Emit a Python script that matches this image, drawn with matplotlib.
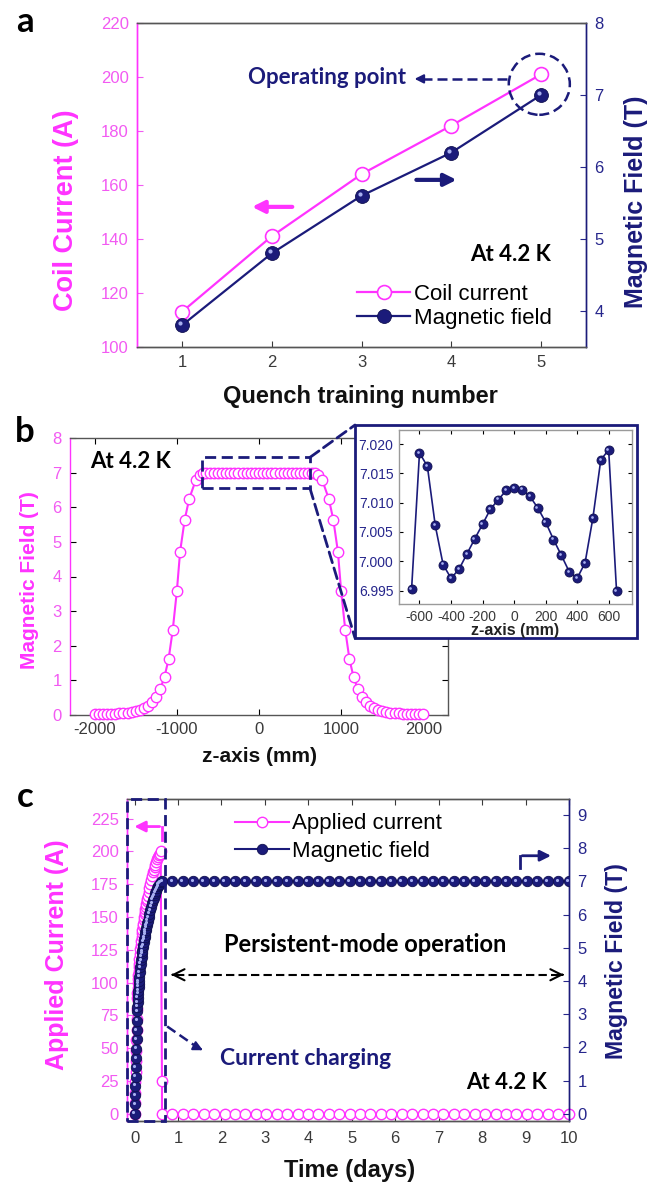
import matplotlib
matplotlib.use("Agg")
import matplotlib.pyplot as plt
from matplotlib.patches import Ellipse, Rectangle, ConnectionPatch
from matplotlib.transforms import offset_copy
from matplotlib.ticker import FormatStrFormatter

plt.rcParams["axes.unicode_minus"] = False

MAG, MAG_T = "#ff33ff", "#f25af2"
NAVY, NAVY_T = "#1b1b7a", "#26268c"
GREY, TICK = "#555555", "#3a3a3a"
SANS, CAL = "Liberation Sans", "Lato"

# ---- panel a: quench training
quench_no = [1, 2, 3, 4, 5]
coil_current = [113, 141, 164, 182, 201]
field_a = [3.8, 4.8, 5.6, 6.2, 7.0]

# ---- panel b: axial field profile
z_profile = [-2000, -1950, -1900, -1850, -1800, -1750, -1700, -1650, -1600, -1550,
             -1500, -1450, -1400, -1350, -1300, -1250, -1200, -1150, -1100, -1050,
             -1000, -960, -905, -850, -770, -720, -680,
             -650, -600, -550, -500, -450, -400, -350, -300, -250, -200, -150, -100, -50,
             0, 50, 100, 150, 200, 250, 300, 350, 400, 450, 500, 550, 600, 650,
             680, 720, 770, 850, 905, 960, 1000,
             1050, 1100, 1150, 1200, 1250, 1300, 1350, 1400, 1450, 1500,
             1550, 1600, 1650, 1700, 1750, 1800, 1850, 1900, 1950, 2000]
field_profile = [0.02, 0.02, 0.025, 0.03, 0.035, 0.04, 0.05, 0.06, 0.07, 0.09,
                 0.11, 0.15, 0.20, 0.27, 0.37, 0.52, 0.76, 1.10, 1.62, 2.45,
                 3.57, 4.72, 5.63, 6.24, 6.78, 6.92, 6.98,
                 7.0, 7.0, 7.0, 7.0, 7.0, 7.0, 7.0, 7.0, 7.0, 7.0, 7.0, 7.0, 7.0,
                 7.0, 7.0, 7.0, 7.0, 7.0, 7.0, 7.0, 7.0, 7.0, 7.0, 7.0, 7.0, 7.0, 7.0,
                 6.98, 6.92, 6.78, 6.24, 5.63, 4.72, 3.57,
                 2.45, 1.62, 1.10, 0.76, 0.52, 0.37, 0.27, 0.20, 0.15, 0.11,
                 0.09, 0.07, 0.06, 0.05, 0.04, 0.035, 0.03, 0.025, 0.02, 0.02]
z_inset = [-650, -600, -550, -500, -450, -400, -350, -300, -250, -200, -150, -100, -50,
           0, 50, 100, 150, 200, 250, 300, 350, 400, 450, 500, 550, 600, 650]
field_inset = [6.9953, 7.0185, 7.0162, 7.0061, 6.9994, 6.9971, 6.9986, 7.0012, 7.0038,
               7.0063, 7.0089, 7.0105, 7.0121, 7.0125, 7.0122, 7.0111, 7.0091, 7.0067,
               7.0037, 7.0010, 6.9982, 6.9971, 6.9997, 7.0074, 7.0173, 7.0190, 6.9949]

# ---- panel c: charging + persistent mode
t_charge = [0.00, 0.01, 0.015, 0.02, 0.025, 0.03, 0.035, 0.04, 0.045, 0.05, 0.055,
            0.06, 0.065, 0.07, 0.075, 0.08, 0.085, 0.09, 0.095, 0.10, 0.11, 0.12, 0.13,
            0.14, 0.15, 0.16, 0.17, 0.18, 0.19, 0.20, 0.21, 0.22, 0.23, 0.24, 0.25,
            0.26, 0.27, 0.28, 0.29, 0.30, 0.32, 0.34, 0.36, 0.38, 0.40, 0.42, 0.44,
            0.46, 0.48, 0.50, 0.52, 0.54, 0.56, 0.58, 0.60]
current_charge = [0, 8, 16, 24, 32, 40, 48, 56, 64, 72, 80,
                  88, 92, 96, 100, 103, 106, 109, 112, 114, 118, 122, 126,
                  129, 132, 135, 138, 140, 143, 145, 148, 150, 152, 154, 156,
                  158, 160, 162, 164, 166, 169, 172, 175, 178, 181, 184, 186,
                  188, 190, 192, 194, 196, 197, 198, 200]
field_charge = [0.00, 0.28, 0.56, 0.84, 1.12, 1.40, 1.68, 1.96, 2.24, 2.52, 2.80,
                3.08, 3.22, 3.36, 3.50, 3.61, 3.71, 3.82, 3.92, 3.99, 4.13, 4.27, 4.41,
                4.52, 4.62, 4.73, 4.83, 4.90, 5.01, 5.08, 5.18, 5.25, 5.32, 5.39, 5.46,
                5.53, 5.60, 5.67, 5.74, 5.81, 5.92, 6.02, 6.13, 6.23, 6.34, 6.44, 6.51,
                6.58, 6.65, 6.72, 6.79, 6.86, 6.90, 6.93, 6.97]
t_drop = [0.63, 0.63]
current_drop = [25, 0]
t_hold = [0.63, 0.87, 1.11, 1.35, 1.59, 1.83, 2.07, 2.31, 2.55, 2.79, 3.03, 3.27, 3.51,
          3.75, 3.99, 4.23, 4.47, 4.71, 4.95, 5.19, 5.43, 5.67, 5.91, 6.15, 6.39, 6.63,
          6.87, 7.11, 7.35, 7.59, 7.83, 8.07, 8.31, 8.55, 8.79, 9.03, 9.27, 9.51, 9.75, 9.99]
field_hold = [7.0, 7.0, 7.0, 7.0, 7.0, 7.0, 7.0, 7.0, 7.0, 7.0, 7.0, 7.0, 7.0, 7.0,
              7.0, 7.0, 7.0, 7.0, 7.0, 7.0, 7.0, 7.0, 7.0, 7.0, 7.0, 7.0, 7.0, 7.0,
              7.0, 7.0, 7.0, 7.0, 7.0, 7.0, 7.0, 7.0, 7.0, 7.0, 7.0, 7.0]
current_hold = [0, 0, 0, 0, 0, 0, 0, 0, 0, 0, 0, 0, 0, 0, 0, 0, 0, 0, 0, 0, 0, 0, 0,
                0, 0, 0, 0, 0, 0, 0, 0, 0, 0, 0, 0, 0, 0, 0, 0]

W, H = 653, 1186
fig = plt.figure(figsize=(W / 100, H / 100), dpi=100)


def box(l, t, r, b):
    return [l / W, 1 - b / H, (r - l) / W, (b - t) / H]


def fx(px):
    return px / W


def fy(py):
    return 1 - py / H


def ball(ax, x, y, ms, lw=1.2, label=None, zorder=3):
    """navy sphere markers with a small highlight"""
    ln, = ax.plot(x, y, "-", color=NAVY, lw=lw, marker="o", ms=ms, mfc=NAVY,
                  mec="#101050", mew=0.6, label=label, zorder=zorder)
    hl = offset_copy(ax.transData, fig=fig, x=-ms * 0.14, y=ms * 0.14, units="points")
    ax.plot(x, y, "o", ms=ms * 0.3, color="#a8b0f0", mec="none", transform=hl,
            zorder=zorder + 0.1)
    return ln


def style(ax, left=None, right=None, size=12):
    for s in ax.spines.values():
        s.set_color(GREY)
        s.set_linewidth(1.0)
    if left:
        ax.spines["left"].set_color(left)
    if right:
        ax.spines["right"].set_color(right)
    ax.tick_params(direction="in", length=4, width=0.8, labelsize=size, pad=6)


def sans_ticks(*axes):
    for a in axes:
        for lab in a.get_xticklabels() + a.get_yticklabels():
            lab.set_family(SANS)


# =============== panel a
ax_a = fig.add_axes(box(137, 23, 586, 347))
ax_a2 = ax_a.twinx()
ax_a.set_xlim(0.5, 5.5)
ax_a.set_ylim(100, 220)
ax_a2.set_ylim(3.5, 8)
ax_a.set_xticks(quench_no)
ax_a.set_yticks([100, 120, 140, 160, 180, 200, 220])
ax_a2.set_yticks([4, 5, 6, 7, 8])
l1, = ax_a.plot(quench_no, coil_current, "-", color=MAG, lw=1.6, marker="o", ms=10,
                mfc="white", mec=MAG, mew=1.2, label="Coil current")
l2 = ball(ax_a2, quench_no, field_a, 10, lw=1.6, label="Magnetic field")
for a in (ax_a, ax_a2):
    style(a, MAG, NAVY)
ax_a.tick_params(axis="y", colors=MAG_T)
ax_a.tick_params(axis="x", colors=TICK, top=False)
ax_a2.tick_params(axis="y", colors=NAVY_T)
sans_ticks(ax_a, ax_a2)

T = ax_a.transData
ax_a2.add_patch(Ellipse((4.98, 197.3), 0.68, 22.6, transform=T, fill=False,
                        ls=(0, (4, 2)), lw=1.8, color=NAVY))
ax_a2.plot([4.62, 3.68], [199.3, 199.3], ls=(0, (4, 2)), lw=1.8, color=NAVY, transform=T)
ax_a2.annotate("", xy=(3.56, 199.3), xytext=(3.7, 199.3), xycoords=T, textcoords=T,
               arrowprops=dict(arrowstyle="-|>", color=NAVY, lw=1.5, mutation_scale=13))
ax_a2.text(3.5, 200, "Operating point", transform=T, ha="right", va="center",
           fontsize=16, fontweight="bold", color=NAVY, family=CAL)
ax_a2.annotate("", xy=(1.75, 151.9), xytext=(2.26, 151.9), xycoords=T, textcoords=T,
               arrowprops=dict(arrowstyle="-|>", color=MAG, lw=3, mutation_scale=18))
ax_a2.annotate("", xy=(4.09, 161.9), xytext=(3.58, 161.9), xycoords=T, textcoords=T,
               arrowprops=dict(arrowstyle="-|>", color=NAVY, lw=3, mutation_scale=18))
ax_a2.text(5.11, 134.2, "At 4.2 K", transform=T, ha="right", va="center",
           fontsize=16, fontweight="bold", color="black", family=CAL)
ax_a2.legend([l1, l2], ["Coil current", "Magnetic field"], loc="lower left",
             bbox_to_anchor=(0.49, 0.055), frameon=False, borderpad=0, borderaxespad=0,
             handlelength=2.4, handletextpad=0.15, labelspacing=0.15,
             prop=dict(family=SANS, size=16))

fig.text(fx(66), fy(210), "Coil Current (A)", rotation=90, ha="center", va="center",
         fontsize=19.5, fontweight="bold", color=MAG, family=SANS)
fig.text(fx(636), fy(202), "Magnetic Field (T)", rotation=90, ha="center", va="center",
         fontsize=18, fontweight="bold", color=NAVY, family=SANS)
fig.text(fx(360), fy(397), "Quench training number", ha="center", va="center",
         fontsize=17, fontweight="bold", color="#111111", family=SANS)
fig.text(fx(25), fy(22), "a", ha="center", va="center", fontsize=25,
         fontweight="bold", family=CAL)

# =============== panel b
ax_b = fig.add_axes(box(70, 438, 448, 715))
ax_b.set_xlim(-2300, 2300)
ax_b.set_ylim(0, 8)
ax_b.set_xticks([-2000, -1000, 0, 1000, 2000])
ax_b.set_yticks(range(0, 9))
ax_b.plot(z_profile, field_profile, "-", color=MAG, lw=1.5, marker="o", ms=7.5,
          mfc="white", mec=MAG, mew=1.0, clip_on=False, zorder=3)
style(ax_b, MAG)
ax_b.tick_params(top=True, right=True)
ax_b.tick_params(axis="y", labelcolor=MAG_T)
ax_b.tick_params(axis="x", labelcolor=TICK, pad=5)
sans_ticks(ax_b)
ax_b.add_patch(Rectangle((-688, 6.55), 1308, 0.89, fill=False, ls=(0, (4, 2)),
                         lw=2, color=NAVY, zorder=4))
ax_b.text(-2061, 7.31, "At 4.2 K", ha="left", va="center", fontsize=16,
          fontweight="bold", family=CAL)
fig.text(fx(30), fy(580), "Magnetic Field (T)", rotation=90, ha="center", va="center",
         fontsize=15, fontweight="bold", color=MAG, family=SANS)
fig.text(fx(259), fy(756), "z-axis (mm)", ha="center", va="center",
         fontsize=15, fontweight="bold", color="#111111", family=SANS)
fig.text(fx(25), fy(432), "b", ha="center", va="center", fontsize=25,
         fontweight="bold", family=CAL)

# inset frame + connectors
fig.add_artist(Rectangle((fx(355), fy(638)), fx(637) - fx(355), fy(425) - fy(638),
                         transform=fig.transFigure, facecolor="white", edgecolor=NAVY,
                         lw=2, zorder=2))
for zc, bc, py in [(620, 7.44, 425), (620, 6.55, 638)]:
    fig.add_artist(ConnectionPatch(xyA=(zc, bc), coordsA=ax_b.transData,
                                   xyB=(fx(355), fy(py)), coordsB=fig.transFigure,
                                   ls=(0, (4, 2)), lw=2, color=NAVY, zorder=2.5))

ax_in = fig.add_axes(box(399, 430, 632, 604), zorder=3)
ax_in.set_xlim(-730, 748)
ax_in.set_ylim(6.9927, 7.0224)
ax_in.set_xticks([-600, -400, -200, 0, 200, 400, 600])
ax_in.set_yticks([6.995, 7.000, 7.005, 7.010, 7.015, 7.020])
ax_in.yaxis.set_major_formatter(FormatStrFormatter("%.3f"))
ball(ax_in, z_inset, field_inset, 6.5, lw=1.2)
style(ax_in, size=10)
for s in ax_in.spines.values():
    s.set_color("#9a9a9a")
ax_in.tick_params(top=True, right=True, length=3, pad=4)
ax_in.tick_params(axis="y", labelcolor=NAVY_T)
ax_in.tick_params(axis="x", labelcolor=TICK)
sans_ticks(ax_in)
fig.text(fx(515), fy(631), "z-axis (mm)", ha="center", va="center",
         fontsize=11.5, fontweight="bold", color="#222222", family=SANS, zorder=4)

# =============== panel c
ax_c = fig.add_axes(box(127, 799, 569, 1121))
ax_c2 = ax_c.twinx()
ax_c.set_xlim(-0.175, 10)
ax_c.set_ylim(-5.5, 240)
ax_c2.set_ylim(-5.5 / 25.32, 240 / 25.32)
ax_c.set_xticks(range(0, 11))
ax_c.set_yticks(range(0, 226, 25))
ax_c2.set_yticks(range(0, 10))
lc1, = ax_c.plot(t_charge + t_drop + t_hold[1:], current_charge + current_drop + current_hold,
                 "-", color=MAG, lw=1.5, marker="o", ms=7.5, mfc="white", mec=MAG,
                 mew=1.0, label="Applied current", clip_on=False)
lc2 = ball(ax_c2, t_charge + t_hold, field_charge + field_hold, 7.5, lw=1.5,
           label="Magnetic field")
for a in (ax_c, ax_c2):
    style(a, MAG, NAVY)
    a.tick_params(top=True)
ax_c.tick_params(axis="y", colors=MAG_T)
ax_c.tick_params(axis="x", colors=TICK, pad=7)
ax_c2.tick_params(axis="y", colors=NAVY_T)
sans_ticks(ax_c, ax_c2)

T = ax_c.transData
ax_c2.add_patch(Rectangle((-0.17, -5.5), 0.87, 245.5, transform=T, fill=False,
                          ls=(0, (4, 2)), lw=2, color=NAVY, clip_on=False, zorder=5))
ax_c2.plot([0.63, 0.63], [209, 219], color=MAG, lw=2, transform=T)
ax_c2.annotate("", xy=(-0.07, 219), xytext=(0.64, 219), xycoords=T, textcoords=T,
               arrowprops=dict(arrowstyle="-|>", color=MAG, lw=2, mutation_scale=16))
ax_c2.plot([0.95, 9.78], [106, 106], ls=(0, (4, 2)), lw=1.5, color="black", transform=T)
for x0, x1 in [(0.95, 0.84), (9.78, 9.88)]:
    ax_c2.annotate("", xy=(x1, 106), xytext=(x0, 106), xycoords=T, textcoords=T,
                   arrowprops=dict(arrowstyle="->", color="black", lw=1.5,
                                   mutation_scale=20))
ax_c2.text(5.3, 129, "Persistent-mode operation", transform=T, ha="center", va="center",
           fontsize=17, fontweight="bold", family=CAL)
ax_c2.plot([0.75, 1.45], [66.6, 50.5], ls=(0, (4, 2)), lw=1.8, color=NAVY, transform=T)
ax_c2.annotate("", xy=(1.63, 47.5), xytext=(1.45, 50.5), xycoords=T, textcoords=T,
               arrowprops=dict(arrowstyle="-|>", color=NAVY, lw=1.5, mutation_scale=14))
ax_c2.text(1.97, 42, "Current charging", transform=T, ha="left", va="center",
           fontsize=16.5, fontweight="bold", color=NAVY, family=CAL)
ax_c2.text(9.5, 24, "At 4.2 K", transform=T, ha="right", va="center",
           fontsize=16, fontweight="bold", family=CAL)
ax_c2.plot([8.87, 8.87], [7.41, 7.77], color=NAVY, lw=2)
ax_c2.annotate("", xy=(9.65, 7.77), xytext=(8.86, 7.77),
               arrowprops=dict(arrowstyle="-|>", color=NAVY, lw=2, mutation_scale=16))
ax_c2.legend([lc1, lc2], ["Applied current", "Magnetic field"], loc="upper left",
             bbox_to_anchor=(0.245, 0.955), frameon=False, borderpad=0, borderaxespad=0,
             handlelength=2.4, handletextpad=0.15, labelspacing=0.3,
             prop=dict(family=SANS, size=16))

fig.text(fx(57), fy(955), "Applied Current (A)", rotation=90, ha="center", va="center",
         fontsize=18, fontweight="bold", color=MAG, family=SANS)
fig.text(fx(617), fy(961), "Magnetic Field (T)", rotation=90, ha="center", va="center",
         fontsize=16.7, fontweight="bold", color=NAVY, family=SANS)
fig.text(fx(350), fy(1170), "Time (days)", ha="center", va="center",
         fontsize=17, fontweight="bold", color="#111111", family=SANS)
fig.text(fx(25), fy(797), "c", ha="center", va="center", fontsize=25,
         fontweight="bold", family=CAL)

fig.savefig("out.png", dpi=100, facecolor="white")
